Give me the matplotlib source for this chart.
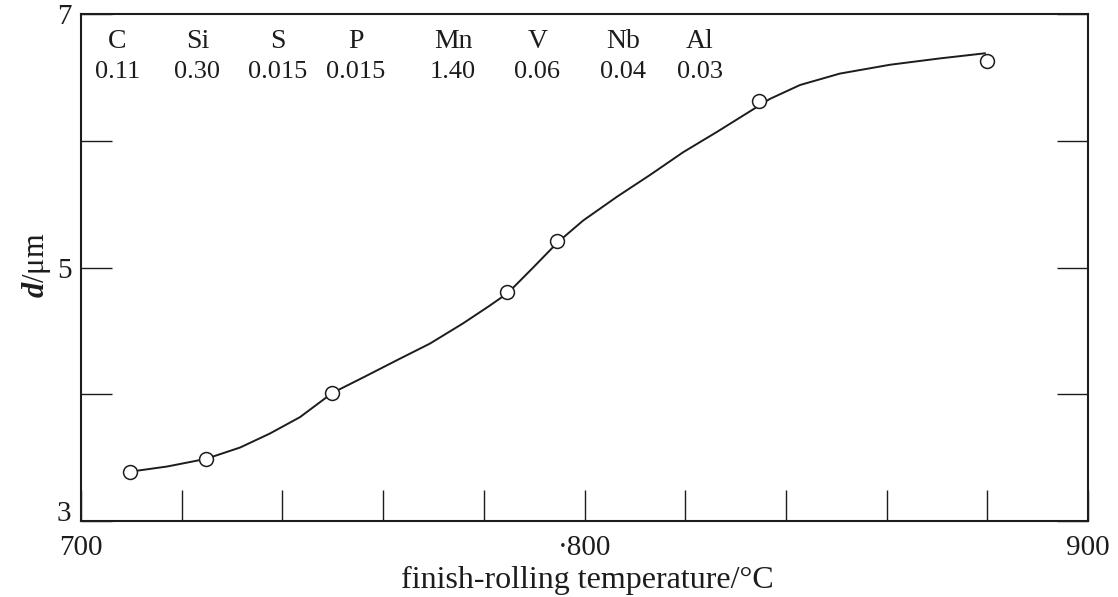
import matplotlib
matplotlib.use("Agg")
import matplotlib.pyplot as plt

# measured grain size vs finish-rolling temperature
temp = [709.7, 724.8, 749.9, 784.6, 794.5, 834.7, 879.9]
grain = [3.39, 3.49, 4.01, 4.81, 5.21, 6.31, 6.63]

# hand-drawn curve through the points
curve_t = [709.9, 717.1, 724.8, 731.6, 737.5, 743.5, 749.9, 756.4, 762.8,
           769.3, 775.9, 781.2, 784.8, 789.8, 794.7, 799.7, 806.5, 813.0,
           819.6, 826.3, 836.8, 842.8, 850.7, 860.7, 870.6, 879.5]
curve_d = [3.39, 3.43, 3.49, 3.58, 3.69, 3.82, 4.01, 4.14, 4.27,
           4.40, 4.56, 4.70, 4.80, 5.00, 5.20, 5.37, 5.56, 5.73,
           5.91, 6.07, 6.33, 6.44, 6.53, 6.60, 6.65, 6.69]

# steel composition (wt%)
elements = ["C", "Si", "S", "P", "Mn", "V", "Nb", "Al"]
amounts = ["0.11", "0.30", "0.015", "0.015", "1.40", "0.06", "0.04", "0.03"]
elem_x = [707.2, 723.1, 739.0, 754.6, 773.9, 790.6, 807.6, 822.9]

ink = "#1c1c1c"
plt.rcParams["font.family"] = ["Liberation Serif", "DejaVu Serif"]
plt.rcParams["mathtext.fontset"] = "custom"
plt.rcParams["mathtext.it"] = "Liberation Serif:italic:bold"

fig = plt.figure(figsize=(11.18, 5.97), dpi=100)
ax = fig.add_axes([0.0725, 0.1273, 0.9007, 0.8492])

ax.plot(curve_t, curve_d, color=ink, lw=1.4, zorder=2)
ax.plot(temp, grain, "o", ms=10, mfc="white", mec=ink, mew=1.1, zorder=3)

for e, a, x in zip(elements, amounts, elem_x):
    ax.text(x, 6.78, e, ha="center", va="center", fontsize=20, color=ink)
    ax.text(x, 6.54, a, ha="center", va="center", fontsize=19, color=ink)

ax.set_xlim(700, 900)
ax.set_ylim(3, 7)
ax.set_xticks(range(700, 901, 20))
ax.set_xticklabels(["700" if t == 700 else "·800" if t == 800 else "900" if t == 900 else ""
                    for t in range(700, 901, 20)])
ax.set_yticks([3, 4, 5, 6, 7])
ax.set_yticklabels(["3", "", "5", "", "7"])
ax.tick_params(axis="x", direction="in", length=22, width=1.0, color=ink,
               labelsize=21, labelcolor=ink, pad=10)
ax.tick_params(axis="y", direction="in", length=22, width=1.0, color=ink,
               labelsize=21, labelcolor=ink, pad=7, right=True)
ax.get_yticklabels()[0].set_verticalalignment("baseline")

for s in ax.spines.values():
    s.set_linewidth(1.5)
    s.set_color(ink)

ax.set_xlabel("finish-rolling temperature/°C", fontsize=23, color=ink)
ax.xaxis.set_label_coords(0.5025, -0.088)
ax.set_ylabel(r"$d$/μm", fontsize=22, color=ink)
ax.yaxis.set_label_coords(-0.028, 0.505)

fig.savefig("out.png", dpi=100)
